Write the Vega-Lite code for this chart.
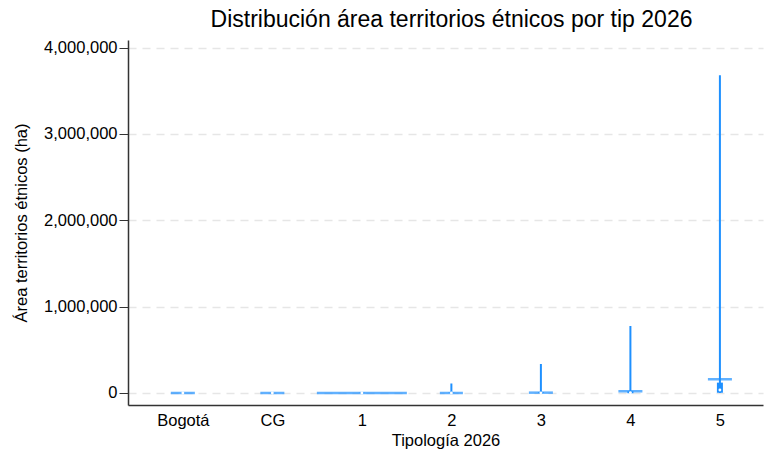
{
  "$schema": "https://vega.github.io/schema/vega-lite/v6.json",
  "autosize": "none",
  "width": 635,
  "height": 365,
  "padding": {"left": 128, "top": 40, "right": 1, "bottom": 46},
  "background": "white",
  "title": {
    "text": "Distribución área territorios étnicos por tip 2026",
    "font": "Liberation Sans",
    "fontSize": 23,
    "fontWeight": "normal",
    "color": "#000000",
    "anchor": "middle",
    "dx": 6,
    "offset": 8
  },
  "config": {
    "view": {"stroke": null},
    "font": "Liberation Sans"
  },
  "data": {
    "values": [
      {"tip": "Bogotá", "min": 0, "max": 0, "mode": 0, "dens": 0.267, "q1": 0, "q3": 0, "median": 0},
      {"tip": "CG", "min": 0, "max": 0, "mode": 0, "dens": 0.267, "q1": 0, "q3": 0, "median": 0},
      {"tip": "1", "min": 0, "max": 8000, "mode": 0, "dens": 1.0, "q1": 0, "q3": 3000, "median": 1000},
      {"tip": "2", "min": 0, "max": 110000, "mode": 0, "dens": 0.256, "q1": 0, "q3": 4000, "median": 1000},
      {"tip": "3", "min": 0, "max": 336000, "mode": 4000, "dens": 0.267, "q1": 0, "q3": 8000, "median": 2000},
      {"tip": "4", "min": 0, "max": 776000, "mode": 20000, "dens": 0.267, "q1": -3000, "q3": 20000, "median": 5000},
      {"tip": "5", "min": 0, "max": 3680000, "mode": 159000, "dens": 0.267, "q1": 3000, "q3": 120000, "median": 35000}
    ]
  },
  "encoding": {
    "x": {
      "field": "tip",
      "type": "nominal",
      "sort": ["Bogotá", "CG", "1", "2", "3", "4", "5"],
      "scale": {"type": "point", "padding": 0.547, "align": 0.56},
      "axis": {
        "title": "Tipología 2026",
        "titleFont": "Liberation Sans",
        "titleFontSize": 16.5,
        "titleFontWeight": "normal",
        "titleColor": "#000000",
        "titlePadding": 4,
        "labelFont": "Liberation Sans",
        "labelFontSize": 16.5,
        "labelColor": "#000000",
        "labelAngle": 0,
        "labelPadding": 7,
        "ticks": false,
        "domainColor": "#333333",
        "domainWidth": 1.5,
        "grid": false
      }
    }
  },
  "layer": [
    {
      "mark": {"type": "rule", "color": "#1E90FF", "strokeWidth": 2},
      "encoding": {
        "y": {
          "field": "min",
          "type": "quantitative",
          "scale": {"domain": [-139000, 4087000], "nice": false, "zero": false},
          "axis": {
            "title": "Área territorios étnicos (ha)",
            "titleFont": "Liberation Sans",
            "titleFontSize": 16.5,
            "titleFontWeight": "normal",
            "titleColor": "#000000",
            "titlePadding": 14,
            "values": [0, 1000000, 2000000, 3000000, 4000000],
            "format": ",d",
            "labelFont": "Liberation Sans",
            "labelFontSize": 16.5,
            "labelColor": "#000000",
            "labelPadding": 2,
            "tickSize": 9,
            "tickColor": "#333333",
            "domainColor": "#333333",
            "domainWidth": 1.5,
            "grid": true,
            "gridColor": "#e6e6e6",
            "gridWidth": 1.5,
            "gridDash": [8, 6]
          }
        },
        "y2": {"field": "max"}
      }
    },
    {
      "mark": {"type": "tick", "color": "#1E90FF", "thickness": 2.5, "orient": "horizontal"},
      "encoding": {
        "y": {"field": "mode", "type": "quantitative"},
        "size": {"field": "dens", "type": "quantitative", "scale": {"domain": [0, 1], "range": [0, 90]}, "legend": null}
      }
    },
    {
      "mark": {"type": "bar", "color": "#1E90FF", "size": 6},
      "encoding": {
        "y": {"field": "q1", "type": "quantitative"},
        "y2": {"field": "q3"}
      }
    },
    {
      "mark": {"type": "point", "filled": true, "color": "white", "size": 8, "opacity": 1},
      "encoding": {
        "y": {"field": "median", "type": "quantitative"}
      }
    }
  ]
}
